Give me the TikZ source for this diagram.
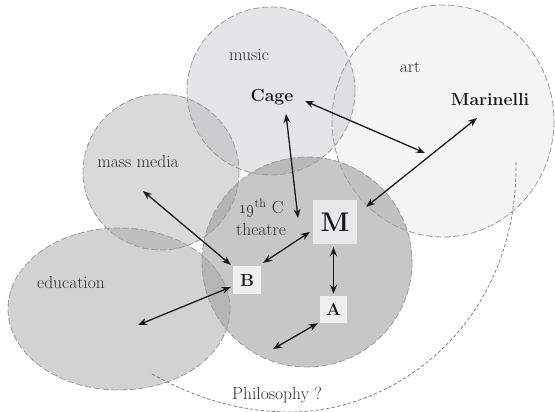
\documentclass[tikz,border=0pt]{standalone}
\usetikzlibrary{arrows.meta}
\definecolor{vnInk}{HTML}{1A1A1A}
\definecolor{vnText}{HTML}{2C2C2C}
\definecolor{vnLine}{HTML}{9C9C9C}
\definecolor{vnArt}{gray}{0.914}
\definecolor{vnMusic}{rgb}{0.780,0.796,0.812}
\definecolor{vnMass}{gray}{0.702}
\definecolor{vnTheatre}{gray}{0.561}
\definecolor{vnEdu}{gray}{0.647}
\definecolor{vnBox}{HTML}{EFEFEF}
\definecolor{vnBoxM}{HTML}{E6E8E9}
\tikzset{
 venn/.style={line cap=round,line join=round,text=vnText},
 field/.style={draw=vnLine,line width=.8pt,dash pattern=on 6pt off 3pt},
 veil/.style={fill=#1,fill opacity=.5},
 topic/.style={font=\fontsize{17.5}{22}\selectfont,inner sep=0pt},
 person/.style={font=\fontsize{17.5}{19}\selectfont\bfseries,text=vnInk,inner sep=0pt},
 tag/.style={fill=vnBox,font=\fontsize{17.5}{19}\selectfont\bfseries,text=vnInk,inner sep=0pt,minimum size=27pt},
 link/.style={draw=vnInk,line width=1.3pt,{Stealth[length=9pt,width=7pt]}-{Stealth[length=9pt,width=7pt]}},
 guess/.style={draw=vnLine!80!black,line width=.75pt,dash pattern=on 3pt off 2.5pt}
}
\begin{document}
\begin{tikzpicture}[venn,x=1pt,y=-1pt]
 \useasboundingbox (0,0) rectangle (555,412);
 % fields
 \fill[veil=vnArt] (443,121) ellipse [x radius=111,y radius=116];
 \fill[veil=vnMusic] (271,91) circle [radius=84];
 \fill[veil=vnMass] (161,172) circle [radius=78];
 \fill[veil=vnTheatre] (307,262) circle [radius=105];
 \fill[veil=vnEdu] (119,309) ellipse [x radius=111,y radius=81];
 \draw[field] (443,121) ellipse [x radius=111,y radius=116];
 \draw[field] (271,91) circle [radius=84];
 \draw[field] (161,172) circle [radius=78];
 \draw[field] (307,262) circle [radius=105];
 \draw[field] (119,309) ellipse [x radius=111,y radius=81];
 \draw[guess] (152,374) .. controls (190,395) and (235,412) .. (290,412)
   .. controls (400,412) and (518,320) .. (516,162);
 % labels
 \node[topic] (music) at (249,55) {music};
 \node[person] (cage) at (272,97) {Cage};
 \node[topic] (art) at (410,67) {art};
 \node[person] (marinelli) at (490,99) {Marinelli};
 \node[topic] (massmedia) at (138,161) {mass media};
 \node[topic,align=center] (theatre) at (261,217) {\oldstylenums{19}\textsuperscript{th} C\\theatre};
 \node[topic] (education) at (71,282) {education};
 \node[topic] (philosophy) at (277,395) {Philosophy ?};
 \node[tag,fill=vnBoxM,minimum size=44pt,font=\fontsize{27}{28}\selectfont\bfseries] (M) at (335,222) {M};
 \node[tag,minimum size=28pt] (B) at (247,280) {B};
 \node[tag] (A) at (333.5,309.5) {A};
 % arrow ends
 \coordinate (cageR) at (305,101);
 \coordinate (artP) at (425,153);
 \coordinate (marP) at (477,118);
 \coordinate (cageS) at (286,114);
 \coordinate (theatreN) at (298,218);
 \coordinate (massP) at (143,191);
 \coordinate (eduP) at (138,325);
 \coordinate (theatreS) at (273,349);
 % links
 \draw[link] (cageR) -- (artP);
 \draw[link] (marP) -- ([shift={(9pt,-7pt)}]M.north east);
 \draw[link] (cageS) -- (theatreN);
 \draw[link] ([shift={(-3pt,-10pt)}]M.west) -- ([shift={(2pt,3pt)}]B.north east);
 \draw[link] (massP) -- ([shift={(-2pt,1pt)}]B.north west);
 \draw[link] (eduP) -- ([shift={(-2pt,-7pt)}]B.west);
 \draw[link] ([shift={(-1.5pt,-3pt)}]M.south) -- ([yshift=2pt]A.north);
 \draw[link] ([xshift=-2pt]A.south west) -- (theatreS);
\end{tikzpicture}
\end{document}
